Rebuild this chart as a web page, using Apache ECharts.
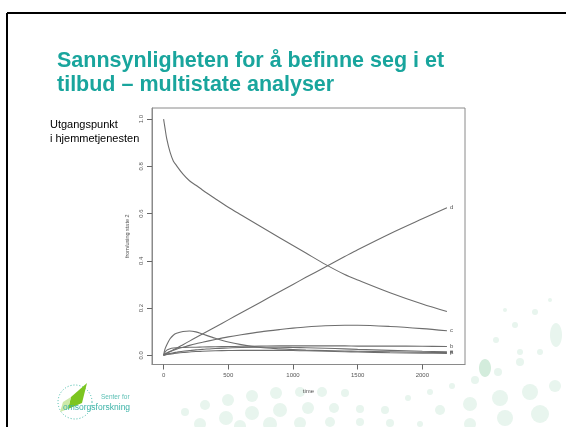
<!DOCTYPE html>
<html>
<head>
<meta charset="utf-8">
<script src="https://cdn.jsdelivr.net/npm/echarts@6/dist/echarts.min.js"></script>
<style>
html,body{margin:0;padding:0;background:#fff;}
#chart{width:566px;height:427px;}
</style>
</head>
<body>
<div id="chart"></div>
<script>
// ---- data ----
const times = [0, 10, 25, 50, 75, 100, 150, 200, 250, 300, 400, 500, 600, 750, 900, 1000, 1100, 1250, 1400, 1500, 1750, 2000, 2190];
const stateStart = [1.0, 0.965, 0.915, 0.86, 0.823, 0.803, 0.767, 0.739, 0.72, 0.70, 0.663, 0.627, 0.594, 0.545, 0.497, 0.465, 0.433, 0.385, 0.342, 0.319, 0.265, 0.217, 0.185];
const stateD = [0, 0.004, 0.009, 0.016, 0.023, 0.03, 0.045, 0.06, 0.075, 0.09, 0.12, 0.15, 0.18, 0.225, 0.27, 0.30, 0.33, 0.374, 0.418, 0.447, 0.515, 0.578, 0.625];
const stateC = [0, 0.005, 0.01, 0.016, 0.021, 0.026, 0.034, 0.042, 0.049, 0.055, 0.067, 0.078, 0.087, 0.099, 0.109, 0.115, 0.12, 0.125, 0.127, 0.127, 0.122, 0.113, 0.104];
const stateA = [0, 0.025, 0.045, 0.07, 0.085, 0.093, 0.101, 0.103, 0.099, 0.09, 0.072, 0.056, 0.045, 0.033, 0.027, 0.024, 0.022, 0.02, 0.018, 0.017, 0.015, 0.013, 0.012];
const stateB = [0, 0.012, 0.022, 0.028, 0.031, 0.032, 0.033, 0.034, 0.034, 0.035, 0.036, 0.037, 0.038, 0.039, 0.04, 0.04, 0.04, 0.04, 0.04, 0.039, 0.039, 0.038, 0.037];
const stateE = [0, 0.002, 0.005, 0.008, 0.011, 0.013, 0.017, 0.02, 0.023, 0.025, 0.029, 0.031, 0.033, 0.034, 0.034, 0.033, 0.032, 0.03, 0.027, 0.025, 0.021, 0.017, 0.015];
const stateF = [0, 0.001, 0.003, 0.005, 0.007, 0.009, 0.012, 0.014, 0.016, 0.017, 0.019, 0.02, 0.021, 0.021, 0.021, 0.02, 0.019, 0.017, 0.015, 0.014, 0.011, 0.009, 0.008];
const xTicks = [0, 500, 1000, 1500, 2000];
const yTicks = [0, 0.2, 0.4, 0.6, 0.8, 1.0];
const title1 = 'Sannsynligheten for å befinne seg i et';
const title2 = 'tilbud – multistate analyser';
const note1 = 'Utgangspunkt';
const note2 = 'i hjemmetjenesten';
const xName = 'time';
const yName = 'from/using state 2';

const seriesDefs = [
  {vals: stateStart, label: ''},
  {vals: stateD, label: 'd'},
  {vals: stateC, label: 'c'},
  {vals: stateA, label: 'a'},
  {vals: stateB, label: 'b'},
  {vals: stateE, label: 'e'},
  {vals: stateF, label: 'f'}
];

const lineColor = '#6e6e6e';
const series = seriesDefs.map(function (s) {
  return {
    type: 'line',
    data: times.map(function (t, i) { return [t, s.vals[i]]; }),
    showSymbol: false,
    smooth: 0.3,
    silent: true,
    lineStyle: {color: lineColor, width: 1.1},
    endLabel: {
      show: !!s.label,
      formatter: s.label,
      fontSize: 6,
      color: '#555',
      distance: 3,
      fontFamily: 'Liberation Sans'
    },
    labelLayout: {hideOverlap: false}
  };
});

// decorative faint dots (background ornament of the slide)
const dots = [
  [185,412,4],[205,405,5],[228,400,6],[252,396,6],[276,393,6],[300,392,5],[322,392,5],[345,393,4],
  [200,424,6],[226,418,7],[252,413,7],[280,410,7],[308,408,6],[334,408,5],[360,409,4],[385,410,4],
  [240,426,6],[270,424,7],[300,423,6],[330,422,5],[360,422,4],[390,423,4],[420,424,3],
  [408,398,3],[430,392,3],[452,386,3],[475,380,4],[498,372,4],[520,362,4],[540,352,3],
  [440,410,5],[470,404,7],[500,398,8],[530,392,8],[555,386,6],[470,424,6],[505,418,8],[540,414,9],
  [496,340,3],[515,325,3],[535,312,3],[550,300,2],[520,352,3],[505,310,2]
];
const graphics = [
  {type:'line', shape:{x1:7,y1:13,x2:566,y2:13}, style:{stroke:'#000', lineWidth:2}},
  {type:'line', shape:{x1:7,y1:13,x2:7,y2:427}, style:{stroke:'#000', lineWidth:2}}
];
dots.forEach(function (d) {
  graphics.push({type:'circle', z:-10, shape:{cx:d[0], cy:d[1], r:d[2]}, style:{fill:'#e8f5ee'}});
});
graphics.push(
  {type:'ellipse', z:-9, shape:{cx:485, cy:368, rx:6, ry:9}, style:{fill:'#d3ecdc'}},
  {type:'ellipse', z:-9, shape:{cx:556, cy:335, rx:6, ry:12}, style:{fill:'#e8f5ee'}},
  {type:'text', style:{x:57, y:61, text:title1, font:'bold 21.5px "Liberation Sans"', fill:'#19a59d', verticalAlign:'middle'}},
  {type:'text', style:{x:57, y:85, text:title2, font:'bold 21.5px "Liberation Sans"', fill:'#19a59d', verticalAlign:'middle'}},
  {type:'text', style:{x:50, y:125, text:note1, font:'11px "Liberation Sans"', fill:'#000', verticalAlign:'middle'}},
  {type:'text', style:{x:50, y:139, text:note2, font:'11px "Liberation Sans"', fill:'#000', verticalAlign:'middle'}},
  // logo
  {type:'circle', shape:{cx:75, cy:402, r:17}, style:{fill:'none', stroke:'#3fb9a8', lineWidth:1, lineDash:[1,2]}},
  {type:'polygon', shape:{points:[[87,383],[71,397],[68,409],[82,403]]}, style:{fill:'#7cc520'}},
  {type:'polygon', shape:{points:[[71,397],[68,409],[60,412],[63,402]]}, style:{fill:'#cde9a8'}},
  {type:'text', style:{x:101, y:397, text:'Senter for', font:'6.5px "Liberation Sans"', fill:'#5cc0b5', verticalAlign:'middle'}},
  {type:'text', style:{x:63, y:408, text:'omsorgsforskning', font:'8.5px "Liberation Sans"', fill:'#3cb3a8', verticalAlign:'middle'}}
);

const axisGray = '#8a8a8a';
const chart = echarts.init(document.getElementById('chart'), null, {renderer:'canvas'});
chart.setOption({
  backgroundColor: '#fff',
  animation: false,
  grid: {left: 152, right: 101, top: 108, bottom: 62.5, show: true, borderColor: axisGray, borderWidth: 1},
  xAxis: {
    type: 'value', min: -89.6, max: 2329.6,
    name: xName, nameLocation: 'middle', nameGap: 24,
    nameTextStyle: {fontSize: 6, color: '#555', fontFamily: 'Liberation Sans'},
    axisLine: {show: true, onZero: false, lineStyle: {color: axisGray, width: 1}},
    splitLine: {show: false},
    axisTick: {show: true, inside: false, length: 5, lineStyle: {color: '#666', width: 1}, customValues: xTicks},
    axisLabel: {fontSize: 6, color: '#555', margin: 8, fontFamily: 'Liberation Sans', customValues: xTicks,
      formatter: function (v) { return String(v); }}
  },
  yAxis: {
    type: 'value', min: -0.039, max: 1.047,
    name: yName, nameLocation: 'middle', nameGap: 20, nameRotate: 90,
    nameTextStyle: {fontSize: 5.5, color: '#555', fontFamily: 'Liberation Sans'},
    axisLine: {show: true, onZero: false, lineStyle: {color: axisGray, width: 1}},
    splitLine: {show: false},
    axisTick: {show: true, inside: false, length: 5, lineStyle: {color: '#666', width: 1}, customValues: yTicks},
    axisLabel: {fontSize: 6, color: '#555', margin: 8, rotate: 90, fontFamily: 'Liberation Sans',
      customValues: yTicks, formatter: function (v) { return v.toFixed(1); }}
  },
  series: series,
  graphic: graphics
});
</script>
</body>
</html>
